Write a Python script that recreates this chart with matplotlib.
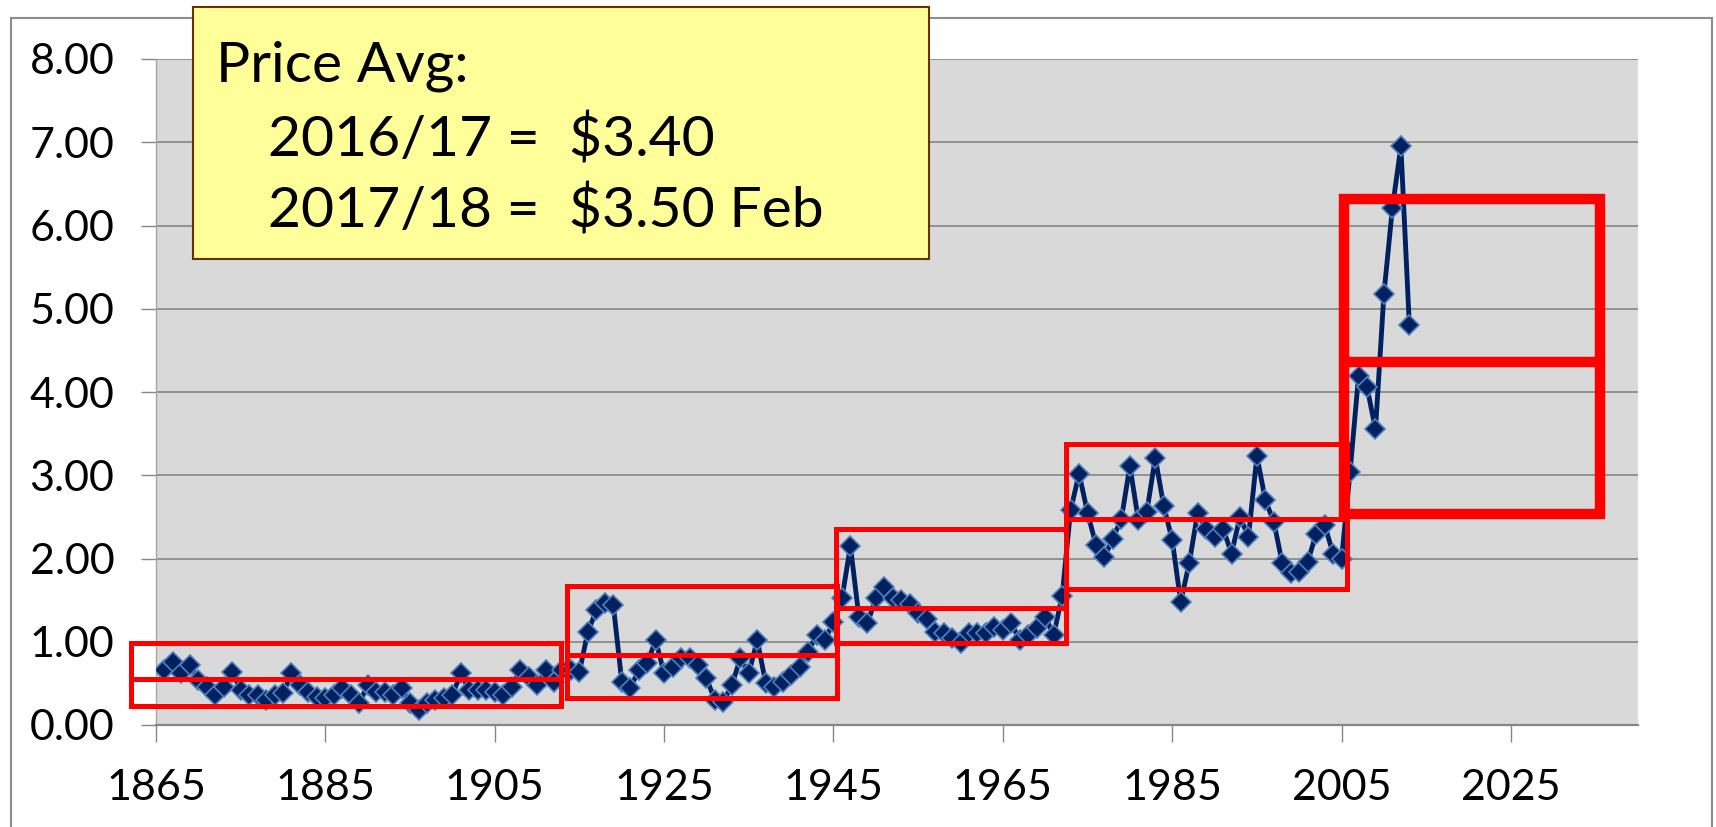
import matplotlib
matplotlib.use("Agg")
import matplotlib.pyplot as plt
from matplotlib.patches import Rectangle
import numpy as np

plt.rcParams['font.family'] = ['Lato', 'DejaVu Sans']

# season average price per bushel, one value per year from 1866
years = np.arange(1866, 2014)
price = [
    0.66, 0.76, 0.62, 0.72, 0.54, 0.46, 0.36, 0.46, 0.64, 0.42,
    0.36, 0.36, 0.30, 0.36, 0.38, 0.62, 0.48, 0.40, 0.34, 0.32,
    0.36, 0.44, 0.36, 0.26, 0.48, 0.40, 0.40, 0.36, 0.44, 0.26,
    0.18, 0.26, 0.30, 0.32, 0.36, 0.62, 0.42, 0.42, 0.42, 0.40,
    0.36, 0.46, 0.66, 0.58, 0.48, 0.66, 0.52, 0.66, 0.66, 0.64,
    1.12, 1.38, 1.46, 1.44, 0.52, 0.44, 0.66, 0.74, 1.02, 0.62,
    0.70, 0.80, 0.80, 0.72, 0.56, 0.30, 0.28, 0.48, 0.80, 0.62,
    1.02, 0.50, 0.46, 0.52, 0.60, 0.70, 0.88, 1.08, 1.02, 1.24,
    1.52, 2.15, 1.30, 1.22, 1.52, 1.66, 1.53, 1.50, 1.45, 1.34,
    1.27, 1.12, 1.10, 1.04, 0.98, 1.10, 1.10, 1.10, 1.18, 1.14,
    1.22, 1.02, 1.08, 1.16, 1.30, 1.08, 1.55, 2.58, 3.02, 2.55,
    2.16, 2.02, 2.24, 2.48, 3.11, 2.46, 2.56, 3.21, 2.63, 2.22,
    1.48, 1.94, 2.55, 2.36, 2.26, 2.36, 2.06, 2.50, 2.26, 3.23,
    2.70, 2.44, 1.94, 1.82, 1.84, 1.96, 2.30, 2.40, 2.06, 2.00,
    3.04, 4.19, 4.06, 3.55, 5.18, 6.21, 6.95, 4.80,
]

# price eras: start year, end year, low, mean, high
era_start = [1862.1, 1913.5, 1945.3, 1972.5, 2005.3]
era_end = [1912.8, 1945.4, 1972.5, 2005.6, 2035.5]
era_low = [0.23, 0.32, 0.98, 1.63, 2.53]
era_mid = [0.55, 0.84, 1.41, 2.48, 4.36]
era_high = [0.99, 1.67, 2.36, 3.38, 6.32]

xticks = [1865, 1885, 1905, 1925, 1945, 1965, 1985, 2005, 2025]
yticks = [0, 1, 2, 3, 4, 5, 6, 7, 8]

note_lines = ["Price Avg:", "2016/17 =  $3.40", "2017/18 =  $3.50 Feb"]

fig = plt.figure(figsize=(17.16, 8.27), dpi=100)
ax = fig.add_axes([156/1716, 1 - 725/827, (1638 - 156)/1716, (725 - 59)/827])
ax.set_facecolor('#d9d9d9')

ax.set_xlim(1865, 2040)
ax.set_ylim(0, 8)
ax.set_xticks(xticks)
ax.set_yticks(yticks)
ax.set_yticklabels(['%.2f' % v for v in yticks])
ax.yaxis.grid(True, color='#8c8c8c', lw=1.3)
ax.set_axisbelow(True)
for s in ['top', 'right']:
    ax.spines[s].set_visible(False)
ax.spines['left'].set_color('#a6a6a6')
ax.spines['left'].set_linewidth(1.0)
ax.spines['bottom'].set_color('#868686')
ax.spines['bottom'].set_linewidth(1.6)
ax.tick_params(axis='x', length=12, width=1.0, color='#868686', labelsize=31, pad=20)
ax.tick_params(axis='y', length=11, width=1.0, color='#868686', labelsize=31, pad=19)

ax.plot(years, price, color='#002060', lw=3.5, marker='D', markersize=9.8,
        markerfacecolor='#002060', markeredgecolor='#4f81bd', markeredgewidth=1.2,
        zorder=3)

# red boxes round each era, the last one drawn heavier
for i in range(len(era_start)):
    lw = 7.5 if i == len(era_start) - 1 else 3.6
    x0, x1 = era_start[i], era_end[i]
    r = Rectangle((x0, era_low[i]), x1 - x0, era_high[i] - era_low[i],
                  fill=False, edgecolor='#ff0000', lw=lw, zorder=4,
                  clip_on=False, joinstyle='miter')
    ax.add_patch(r)
    ax.plot([x0, x1], [era_mid[i], era_mid[i]], color='#ff0000', lw=lw,
            zorder=4, clip_on=False, solid_capstyle='butt')

# outer chart border
fig.add_artist(Rectangle((11/1716, -0.05), (1712 - 11)/1716, 1.05 - 18/827,
                         transform=fig.transFigure, fill=False,
                         edgecolor='#8c8c8c', lw=1.5, zorder=0.5))

# note box
fig.add_artist(Rectangle((192.5/1716, 1 - 259/827), (929 - 192.5)/1716, (259 - 7)/827,
                         transform=fig.transFigure, facecolor='#ffff99',
                         edgecolor='#663300', lw=1.5, zorder=5))
fig.text(215.6/1716, 1 - 82/827, note_lines[0], fontsize=41, va='baseline', zorder=6)
fig.text(268/1716, 1 - 156.5/827, note_lines[1], fontsize=41, va='baseline', zorder=6)
fig.text(268/1716, 1 - 227.6/827, note_lines[2], fontsize=41, va='baseline', zorder=6)

fig.savefig('out.png', dpi=100)
